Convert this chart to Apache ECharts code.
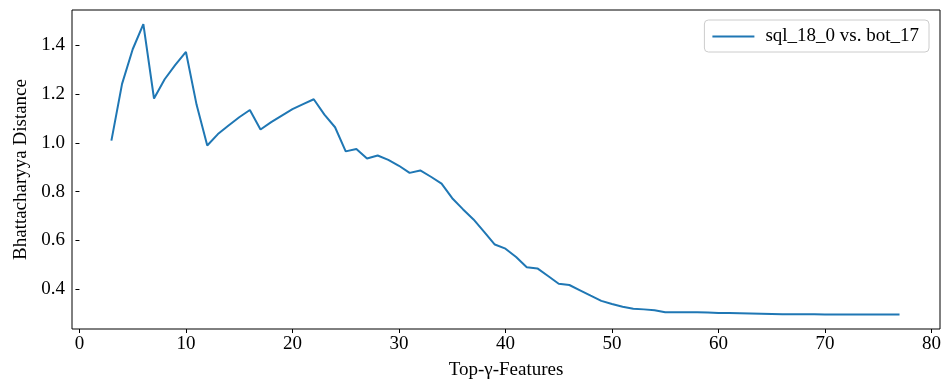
<!DOCTYPE html>
<html>
<head>
<meta charset="utf-8">
<script src="https://cdn.jsdelivr.net/npm/echarts@6/dist/echarts.min.js"></script>
<style>
  html, body { margin: 0; padding: 0; background: #fff; }
  #chart { width: 944px; height: 381px; }
</style>
</head>
<body>
<div id="chart"></div>
<script>
// Top-k features on x, distance on y
var topFeatures = [3, 4, 5, 6, 7, 8, 9, 10, 11, 12, 13, 14, 15, 16, 17, 18, 19, 20,
  21, 22, 23, 24, 25, 26, 27, 28, 29, 30, 31, 32, 33, 34, 35, 36, 37, 38, 39, 40,
  41, 42, 43, 44, 45, 46, 47, 48, 49, 50, 51, 52, 53, 54, 55, 56, 57, 58, 59, 60,
  61, 62, 63, 64, 65, 66, 67, 68, 69, 70, 71, 72, 73, 74, 75, 76, 77];
var distance = [1.009, 1.242, 1.384, 1.487, 1.182, 1.261, 1.320, 1.373, 1.156, 0.989,
  1.036, 1.071, 1.105, 1.135, 1.055, 1.085, 1.112, 1.138, 1.159, 1.179,
  1.116, 1.064, 0.965, 0.975, 0.936, 0.948, 0.930, 0.906, 0.877, 0.887,
  0.861, 0.833, 0.773, 0.728, 0.686, 0.635, 0.583, 0.566, 0.532, 0.490,
  0.485, 0.454, 0.422, 0.417, 0.395, 0.373, 0.352, 0.339, 0.328, 0.320,
  0.317, 0.313, 0.305, 0.305, 0.305, 0.305, 0.304, 0.302, 0.302, 0.301,
  0.300, 0.299, 0.298, 0.297, 0.297, 0.297, 0.297, 0.296, 0.296, 0.296,
  0.296, 0.296, 0.296, 0.296, 0.296];
var xTicks = [0, 10, 20, 30, 40, 50, 60, 70, 80];
var yTicks = [0.4, 0.6, 0.8, 1.0, 1.2, 1.4];
var seriesName = "sql_18_0 vs. bot_17";

var font = "'Liberation Serif', 'DejaVu Serif', serif";

var chart = echarts.init(document.getElementById("chart"));

var points = topFeatures.map(function (x, i) {
  return [x, distance[i]];
});

chart.setOption({
  animation: false,
  textStyle: { fontFamily: font },
  grid: {
    left: 72,
    right: 4,
    top: 10,
    bottom: 52,
    outerBoundsMode: "none",
    containLabel: false,
    show: true,
    borderColor: "#000",
    borderWidth: 1
  },
  legend: {
    data: [{ name: seriesName, icon: "rect" }],
    right: 15,
    top: 20,
    padding: [7, 10, 6, 8],
    itemWidth: 42,
    itemHeight: 2,
    borderColor: "#ccc",
    borderWidth: 1,
    borderRadius: 4,
    textStyle: { fontFamily: font, fontSize: 19, color: "#000", padding: [0, 0, 0, 6] }
  },
  xAxis: {
    type: "value",
    min: -0.7,
    max: 80.8,
    name: "Top-\u03b3-Features",
    nameLocation: "middle",
    nameGap: 32,
    nameTextStyle: { fontFamily: font, fontSize: 19, color: "#000" },
    splitLine: { show: false },
    axisLine: { show: false },
    axisTick: { show: true, length: 4, lineStyle: { color: "#000" }, customValues: xTicks },
    axisLabel: { fontFamily: font, fontSize: 19, color: "#000", margin: 6, customValues: xTicks }
  },
  yAxis: {
    type: "value",
    min: 0.2365,
    max: 1.545,
    name: "Bhattacharyya Distance",
    nameLocation: "middle",
    nameGap: 40,
    nameTextStyle: { fontFamily: font, fontSize: 19, color: "#000" },
    splitLine: { show: false },
    axisLine: { show: false },
    axisTick: { show: true, length: 4, lineStyle: { color: "#000" }, customValues: yTicks },
    axisLabel: {
      fontFamily: font, fontSize: 19, color: "#000", margin: 7,
      customValues: yTicks,
      formatter: function (v) { return v.toFixed(1); }
    }
  },
  series: [{
    name: seriesName,
    type: "line",
    data: points,
    symbol: "none",
    lineStyle: { color: "#1f77b4", width: 2 },
    itemStyle: { color: "#1f77b4" }
  }]
});
</script>
</body>
</html>
